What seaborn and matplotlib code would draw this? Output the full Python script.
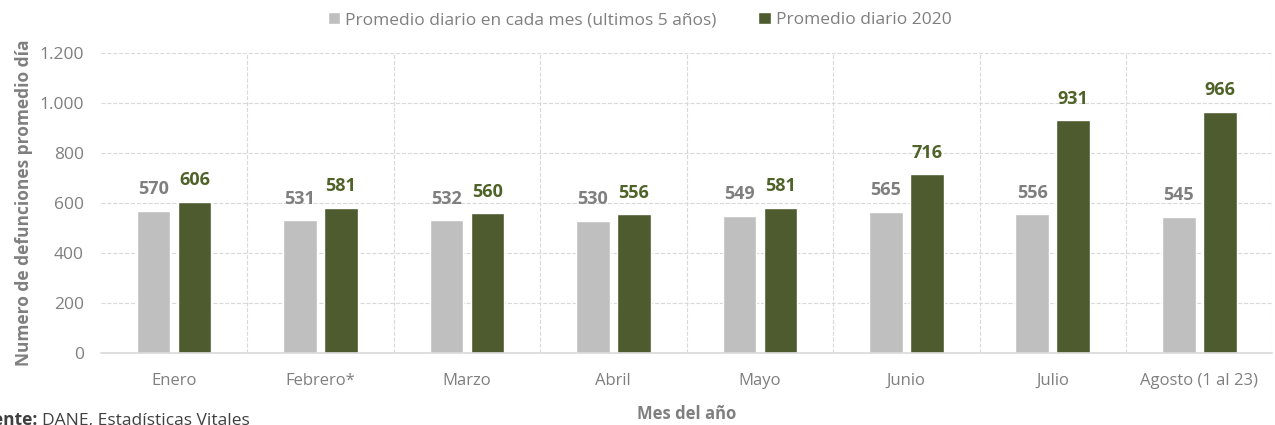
import pandas as pd
import matplotlib.pyplot as plt
import seaborn as sns
from matplotlib.ticker import FuncFormatter, MultipleLocator

meses = ['Enero', 'Febrero*', 'Marzo', 'Abril', 'Mayo', 'Junio', 'Julio', 'Agosto (1 al 23)']
promedio_5_anios = [570, 531, 532, 530, 549, 565, 556, 545]
promedio_2020 = [606, 581, 560, 556, 581, 716, 931, 966]
serie_5 = 'Promedio diario en cada mes (ultimos 5 años)'
serie_2020 = 'Promedio diario 2020'

gris = '#BFBFBF'
verde = '#4F6228'
texto = '#7F7F7F'

df = pd.DataFrame({
    'Mes': meses * 2,
    'Valor': promedio_5_anios + promedio_2020,
    'Serie': [serie_5] * len(meses) + [serie_2020] * len(meses),
})

sns.set_style('white')
plt.rcParams['font.family'] = ['Open Sans', 'DejaVu Sans']

fig = plt.figure(figsize=(12.75, 4.25), dpi=100)
ax = fig.add_axes([0.079, 0.169, 0.919, 0.706])

sns.barplot(data=df, x='Mes', y='Valor', hue='Serie', palette=[gris, verde],
            width=0.56, gap=0.18, ax=ax, legend=True)

# etiquetas de valor sobre cada barra
for cont, color in zip(ax.containers, [texto, verde]):
    ax.bar_label(cont, labels=[f'{int(v.get_height())}' for v in cont],
                 padding=9, color=color, fontsize=13, fontweight='bold')

ax.set_ylim(0, 1200)
ax.set_xlim(-0.5, len(meses) - 0.5)
ax.yaxis.set_major_locator(MultipleLocator(200))
ax.yaxis.set_major_formatter(FuncFormatter(lambda v, p: f'{int(v):,}'.replace(',', '.')))
ax.set_xticks([i + 0.5 for i in range(len(meses))], minor=True)
ax.grid(True, axis='y', which='major', color='#D9D9D9', linestyle='--', linewidth=0.8)
ax.grid(True, axis='x', which='minor', color='#D9D9D9', linestyle='--', linewidth=0.8)
ax.grid(False, axis='x', which='major')
ax.set_axisbelow(True)
ax.tick_params(axis='both', which='both', length=0, colors=texto)
ax.tick_params(axis='x', pad=14, labelsize=12)
ax.tick_params(axis='y', pad=12, labelsize=12.5)
for s in ['top', 'right', 'left']:
    ax.spines[s].set_visible(False)
ax.spines['bottom'].set_color('#D9D9D9')
ax.spines['bottom'].set_linewidth(1.2)

ax.set_xlabel('Mes del año', color=texto, fontsize=12, fontweight='bold', labelpad=12)
ax.set_ylabel('Numero de defunciones promedio día', color=texto, fontsize=12.5,
              fontweight='bold', labelpad=10)
ax.yaxis.set_label_coords(-0.058, 0.5)

leg = ax.legend(loc='center', bbox_to_anchor=(0.46, 1.11), ncol=2, frameon=False,
                handlelength=0.7, handleheight=0.7, handletextpad=0.3, columnspacing=2.4,
                fontsize=12.5)
for t in leg.get_texts():
    t.set_color(texto)

fig.text(0.03, 0.0, 'Fuente:', fontsize=12.5, color='#404040', fontweight='bold',
         ha='right', va='baseline')
fig.text(0.033, 0.0, 'DANE, Estadísticas Vitales', fontsize=12.5, color='#404040',
         ha='left', va='baseline')

fig.savefig('out.png', dpi=100)
